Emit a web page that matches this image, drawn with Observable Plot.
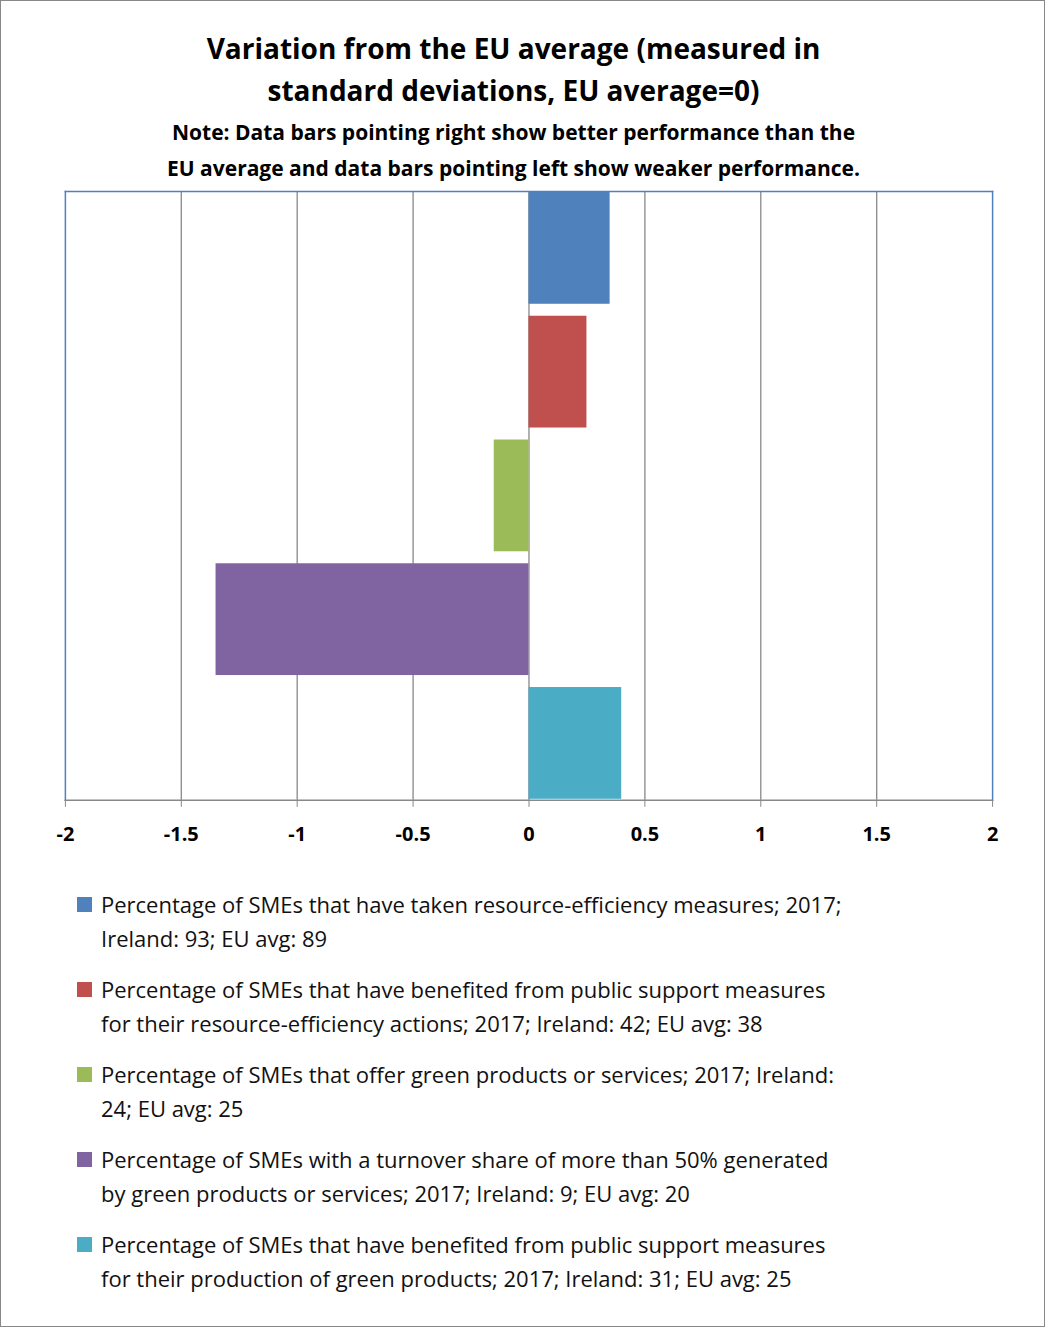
<!DOCTYPE html>
<html><head><meta charset="utf-8">
<script src="https://cdn.jsdelivr.net/npm/d3@7"></script>
<script src="https://cdn.jsdelivr.net/npm/@observablehq/plot@0.6"></script>
<style>
body{margin:0;background:#fff;font-family:"Open Sans",Lato,sans-serif;}
#wrap{position:relative;width:1043px;height:1325px;border:1px solid #888;}
#title{position:absolute;top:26px;left:0;width:1025px;text-align:center;font-weight:bold;font-size:28px;line-height:42px;}
#sub{position:absolute;top:113px;left:0;width:1025px;text-align:center;font-weight:bold;font-size:21px;line-height:36px;}
#chart{position:absolute;top:180px;left:0;}
#legend{position:absolute;top:886px;left:76px;font-size:22px;line-height:34px;color:#111;}
.li{position:relative;padding-left:24px;margin-bottom:17px;width:900px;}
.sw{position:absolute;left:0;top:10px;width:15px;height:15px;}
</style></head><body>
<div id="wrap">
<div id="title">Variation from the EU average (measured in<br>standard deviations, EU average=0)</div>
<div id="sub">Note: Data bars pointing right show better performance than the<br>EU average and data bars pointing left show weaker performance.</div>
<div id="chart"></div>
<div id="legend"></div>
</div>
<script>
const labels = [
 "Percentage of SMEs that have taken resource-efficiency measures; 2017; Ireland: 93; EU avg: 89",
 "Percentage of SMEs that have benefited from public support measures for their resource-efficiency actions; 2017; Ireland: 42; EU avg: 38",
 "Percentage of SMEs that offer green products or services; 2017; Ireland: 24; EU avg: 25",
 "Percentage of SMEs with a turnover share of more than 50% generated by green products or services; 2017; Ireland: 9; EU avg: 20",
 "Percentage of SMEs that have benefited from public support measures for their production of green products; 2017; Ireland: 31; EU avg: 25"
];
const legendLines = [
 ["Percentage of SMEs that have taken resource-efficiency measures; 2017;","Ireland: 93; EU avg: 89"],
 ["Percentage of SMEs that have benefited from public support measures","for their resource-efficiency actions; 2017; Ireland: 42; EU avg: 38"],
 ["Percentage of SMEs that offer green products or services; 2017; Ireland:","24; EU avg: 25"],
 ["Percentage of SMEs with a turnover share of more than 50% generated","by green products or services; 2017; Ireland: 9; EU avg: 20"],
 ["Percentage of SMEs that have benefited from public support measures","for their production of green products; 2017; Ireland: 31; EU avg: 25"]
];
const values = [0.35, 0.25, -0.15, -1.35, 0.40];
const colors = ["#4f81bd","#c0504d","#9bbb59","#8064a2","#4bacc6"];
const ticks = [-2,-1.5,-1,-0.5,0,0.5,1,1.5,2];
const data = labels.map((l,i)=>({label:l, value:values[i], color:colors[i]}));

const chart = Plot.plot({
  width: 1045, height: 690,
  marginLeft: 64, marginRight: 52, marginTop: 10, marginBottom: 70,
  x: {domain:[-2,2], ticks: ticks, tickFormat: d=>String(d), label: null},
  y: {domain: labels, paddingInner: 0.1, paddingOuter: 0, axis: null},
  style: {fontFamily:"'Open Sans', Lato, sans-serif", fontSize:"20px", fontWeight:"bold", color:"#000"},
  marks: [
    Plot.ruleX(ticks.filter(t=>t>-2&&t<2), {stroke:"#888", strokeWidth:1.3, strokeOpacity:1}),
    Plot.frame({stroke:"#4f81bd", strokeWidth:1.5, anchor:"left"}),
    Plot.frame({stroke:"#4f81bd", strokeWidth:1.5, anchor:"top"}),
    Plot.frame({stroke:"#4f81bd", strokeWidth:1.5, anchor:"right"}),
    Plot.barX(data, {x1:0, x2:"value", y:"label", fill:"color"}),
    Plot.frame({stroke:"#888", strokeWidth:1.5, anchor:"bottom"}),
    Plot.axisX({ticks, tickFormat:d=>String(d), tickSize:7, tickPadding:20, stroke:"#888", label:null, fontSize:20, fontWeight:"bold"})
  ]
});
document.getElementById("chart").appendChild(chart);
const lg = document.getElementById("legend");
legendLines.forEach((ls,i)=>{
  const d=document.createElement("div"); d.className="li";
  d.innerHTML=`<span class="sw" style="background:${colors[i]}"></span>${ls[0]}<br>${ls[1]}`;
  lg.appendChild(d);
});
</script>
</body></html>
